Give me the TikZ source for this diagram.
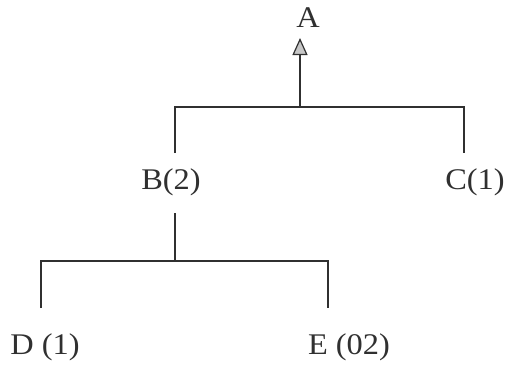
\documentclass[tikz,border=0pt]{standalone}
\usepackage{fontspec}
\setmainfont{Liberation Serif}[FakeStretch=1.08]
\usetikzlibrary{arrows.meta}
\definecolor{ink}{HTML}{303030}
\tikzset{
  lbl/.style={inner sep=0pt, text=ink, font=\fontsize{30}{33}\selectfont},
  link/.style={draw=ink, line width=1.8pt},
  uparrow/.style={link, -{Triangle[length=17pt,width=15pt,fill=gray!45,line width=1.2pt]}}
}
\begin{document}
\begin{tikzpicture}[x=1pt,y=-1pt]
\useasboundingbox (0,0) rectangle (507,365);
% labels
\node[lbl] (A) at (308,18) {A};
\node[lbl] (B) at (171,182) {B(2)};
\node[lbl] (C) at (475,182) {C(1)};
\node[lbl] (D) at (45,347) {D (1)};
\node[lbl] (E) at (349,347) {E (02)};
% junction points
\coordinate (j1) at (300,107);
\coordinate (tip) at (300,38);
\coordinate (bTop) at (175,153);
\coordinate (cTop) at (464,153);
\coordinate (bBot) at (175,213);
\coordinate (j2) at (175,261);
\coordinate (dTop) at (41,308);
\coordinate (eTop) at (328,308);
% connectors
\draw[uparrow] (j1) -- (tip);
\draw[link] (bTop) |- (j1) -| (cTop);
\draw[link] (bBot) -- (j2);
\draw[link] (dTop) |- (j2) -| (eTop);
\end{tikzpicture}
\end{document}
